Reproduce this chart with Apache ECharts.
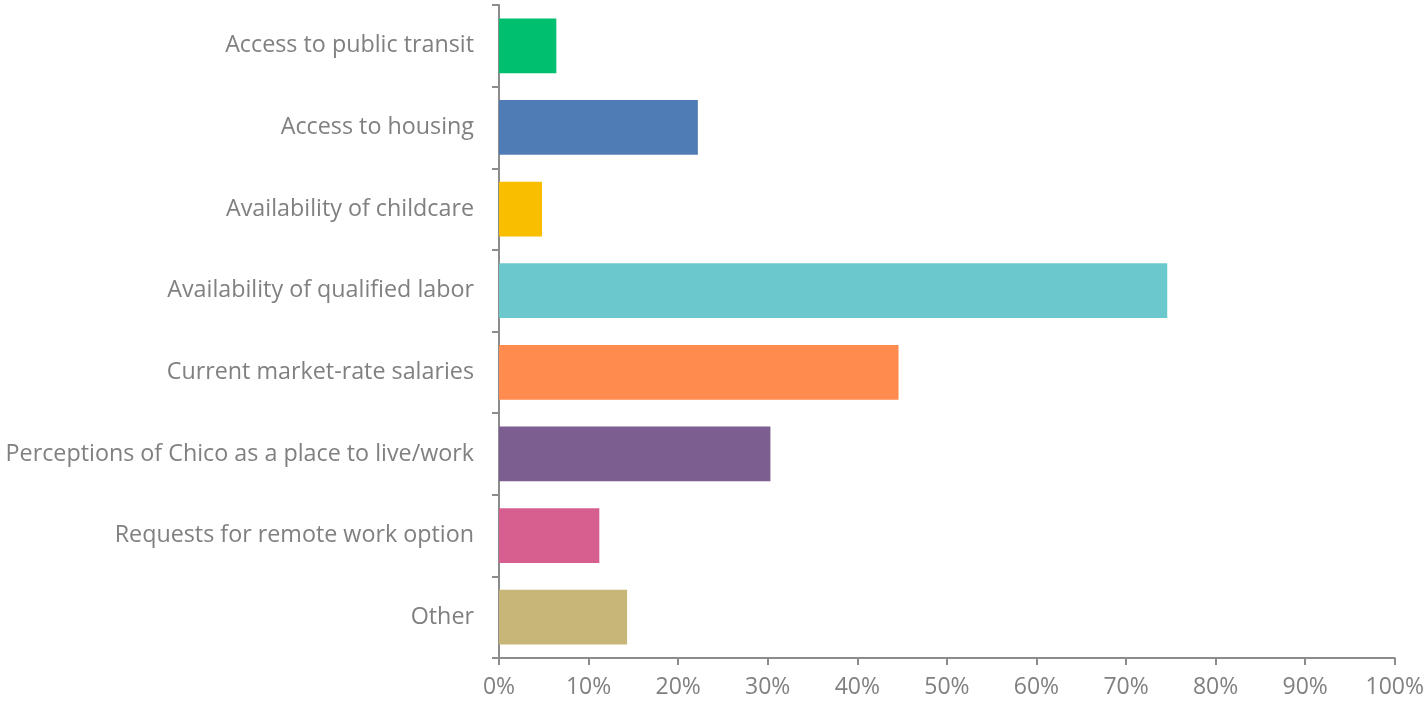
<!DOCTYPE html>
<html>
<head>
<meta charset="utf-8">
<script src="https://cdn.jsdelivr.net/npm/echarts@6/dist/echarts.min.js"></script>
<style>
  html, body { margin: 0; padding: 0; background: #fff; }
  #chart { width: 1427px; height: 703px; }
</style>
</head>
<body>
<div id="chart"></div>
<script>
// categories top to bottom, as in the picture
const categories = [
  "Access to public transit",
  "Access to housing",
  "Availability of childcare",
  "Availability of qualified labor",
  "Current market-rate salaries",
  "Perceptions of Chico as a place to live/work",
  "Requests for remote work option",
  "Other"
];
const shares = [6.4, 22.2, 4.8, 74.6, 44.6, 30.3, 11.2, 14.3];
const barColors = ["#00BF6F", "#507CB6", "#F9BE00", "#6BC8CD", "#FF8B4F", "#7D5E90", "#D65F8F", "#C8B678"];
const xTicks = [0, 10, 20, 30, 40, 50, 60, 70, 80, 90, 100];

const chart = echarts.init(document.getElementById("chart"));

const font = "'Open Sans', 'Liberation Sans', sans-serif";
const gray = "#808080";

chart.setOption({
  animation: false,
  grid: { left: 499, right: 31, top: 5, bottom: 45, containLabel: false },
  xAxis: {
    type: "value",
    min: xTicks[0],
    max: xTicks[xTicks.length - 1],
    interval: 10,
    splitLine: { show: false },
    axisLine: { show: true, lineStyle: { color: "#8c8c8c", width: 2 } },
    axisTick: { show: true, length: 7, lineStyle: { color: "#8c8c8c", width: 2 } },
    axisLabel: {
      formatter: "{value}%",
      color: gray,
      fontSize: 23,
      fontFamily: font,
      margin: 18
    }
  },
  yAxis: {
    type: "category",
    inverse: true,
    data: categories,
    axisLine: { show: true, lineStyle: { color: "#8c8c8c", width: 2 } },
    axisTick: { show: true, length: 7, lineStyle: { color: "#8c8c8c", width: 2 } },
    axisLabel: {
      color: gray,
      fontSize: 23.3,
      fontFamily: font,
      margin: 25
    }
  },
  series: [{
    type: "bar",
    barCategoryGap: "33%",
    data: shares.map((v, i) => ({ value: v, itemStyle: { color: barColors[i] } }))
  }]
});
</script>
</body>
</html>
